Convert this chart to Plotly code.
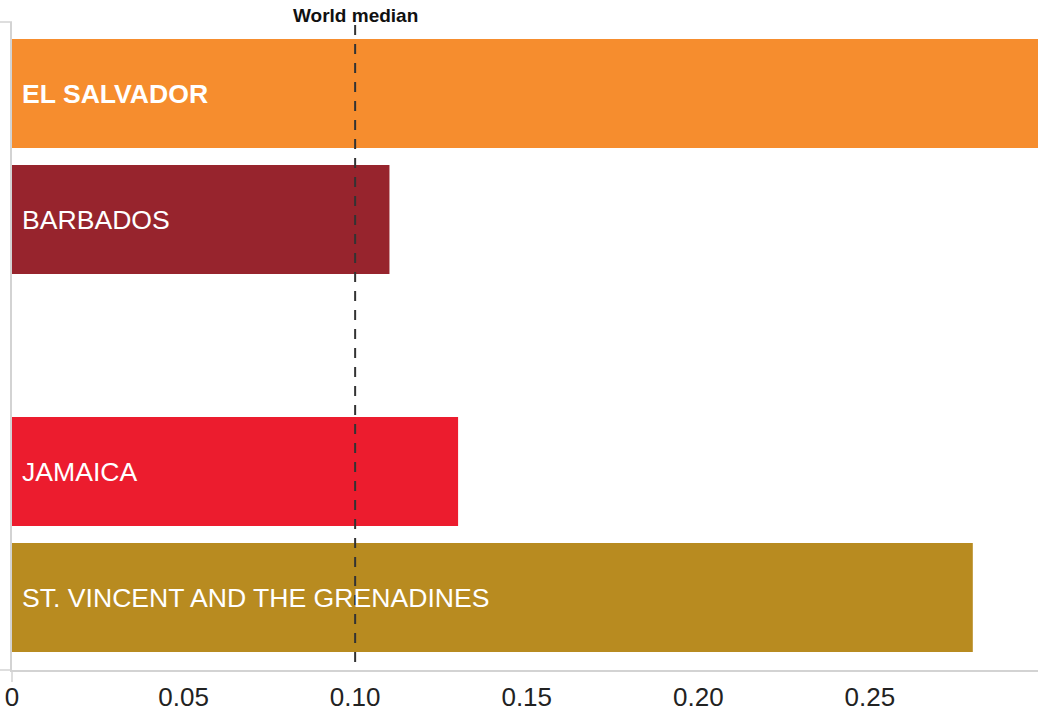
import plotly.graph_objects as go

# ---- data ----
countries = ["EL SALVADOR", "BARBADOS", None, "JAMAICA", "ST. VINCENT AND THE GRENADINES"]
values = [0.299, 0.110, None, 0.130, 0.280]
colors = ["#F68D2E", "#97242D", "#FFFFFF", "#EC1C2E", "#B88B20"]
bold = [True, False, False, False, False]
world_median = 0.10
tick_vals = [0, 0.05, 0.10, 0.15, 0.20, 0.25]
tick_text = ["0", "0.05", "0.10", "0.15", "0.20", "0.25"]

W, H = 1038, 714
ML, MR, MT, MB = 12, 0, 22, 44
pw, ph = W - ML - MR, H - MT - MB

positions = list(range(len(countries)))

fig = go.Figure()
fig.add_trace(go.Bar(
    x=values, y=positions, orientation="h",
    marker=dict(color=colors, line=dict(width=0)),
    width=0.865, hoverinfo="skip", showlegend=False,
))

annotations = []
for pos, name, b in zip(positions, countries, bold):
    if name is None:
        continue
    annotations.append(dict(
        x=0, y=pos, xref="x", yref="y", xanchor="left", yanchor="middle",
        xshift=8, showarrow=False,
        text=f"<b>{name}</b>" if b else name,
        font=dict(family="Liberation Sans, Arial, sans-serif", size=26.6, color="#FFFFFF"),
    ))

annotations.append(dict(
    x=world_median, y=1 + 7 / ph, xref="x", yref="paper", xanchor="center", yanchor="middle",
    showarrow=False, text="<b>World median</b>",
    font=dict(family="Liberation Sans, Arial, sans-serif", size=19, color="#111111"),
))

axis_col = "#D3D3D3"
shapes = [
    # median line
    dict(type="line", xref="x", yref="paper", x0=world_median, x1=world_median,
         y0=8 / ph, y1=1, line=dict(color="#333333", width=2, dash="10px,9px"), layer="above"),
    # y-axis domain outer ticks
    dict(type="line", xref="paper", yref="paper", x0=-ML / pw, x1=0, y0=1, y1=1,
         line=dict(color=axis_col, width=1.5), layer="above"),
    dict(type="line", xref="paper", yref="paper", x0=-ML / pw, x1=0, y0=0, y1=0,
         line=dict(color=axis_col, width=1.5), layer="above"),
    dict(type="line", xref="paper", yref="paper", x0=0, x1=0, y0=0, y1=-12 / ph,
         line=dict(color=axis_col, width=1.5), layer="above"),
]

fig.update_layout(
    template="none",
    width=W, height=H,
    margin=dict(l=ML, r=MR, t=MT, b=MB, pad=0, autoexpand=False),
    paper_bgcolor="white", plot_bgcolor="white",
    bargap=0.135,
    annotations=annotations, shapes=shapes,
    font=dict(family="Liberation Sans, Arial, sans-serif"),
    xaxis=dict(
        automargin=False,
        range=[0, 0.299], tickvals=tick_vals, ticktext=tick_text,
        showgrid=False, zeroline=False,
        showline=True, linecolor=axis_col, linewidth=1.5,
        ticks="outside", ticklen=3, tickcolor="rgba(0,0,0,0)",
        tickfont=dict(family="Liberation Sans, Arial, sans-serif", size=26, color="#222222"),
        fixedrange=True,
    ),
    yaxis=dict(
        automargin=False,
        range=[4.575, -0.5675], showticklabels=False, showgrid=False, zeroline=False,
        showline=True, linecolor=axis_col, linewidth=1.5, ticks="",
        fixedrange=True,
    ),
)

fig.write_html("out.html", config={"displayModeBar": False})
